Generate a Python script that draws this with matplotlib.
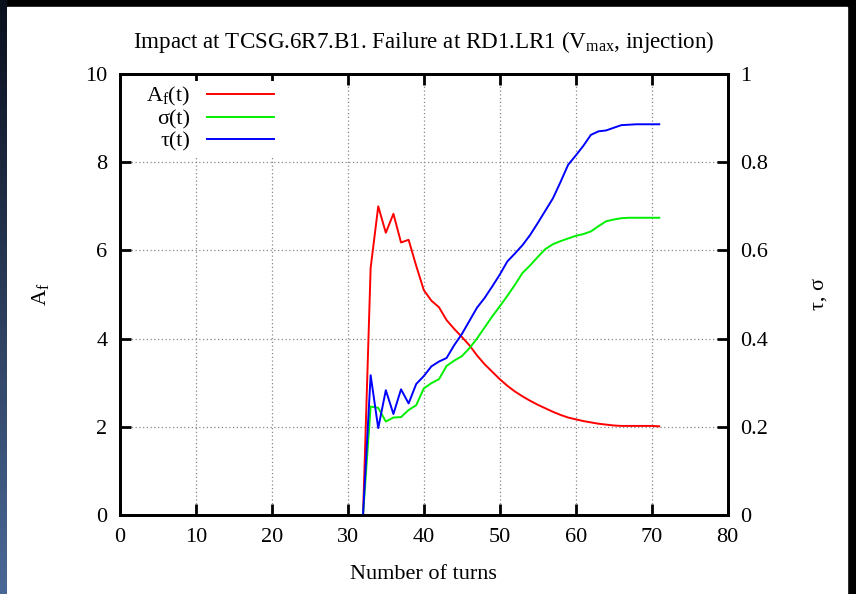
import matplotlib
matplotlib.use("Agg")
import matplotlib.pyplot as plt
import numpy as np

plt.rcParams["font.family"] = ["Liberation Serif", "DejaVu Serif"]
plt.rcParams["mathtext.fontset"] = "custom"
plt.rcParams["mathtext.rm"] = "Liberation Serif"
plt.rcParams["mathtext.it"] = "Liberation Serif:italic"

turns = list(range(32, 72))
a_f = [0.0, 5.6, 7.0, 6.4, 6.83, 6.18, 6.24, 5.65, 5.1, 4.86,
       4.71, 4.42, 4.22, 4.04, 3.85, 3.62, 3.42, 3.25, 3.08, 2.93,
       2.80, 2.69, 2.59, 2.50, 2.42, 2.34, 2.27, 2.21, 2.17, 2.13,
       2.10, 2.07, 2.05, 2.03, 2.02, 2.02, 2.02, 2.02, 2.02, 2.01]
sigma = [0.0, 0.246, 0.243, 0.212, 0.221, 0.222, 0.238, 0.249, 0.287, 0.299,
         0.308, 0.338, 0.350, 0.360, 0.378, 0.400, 0.425, 0.450, 0.473, 0.497,
         0.522, 0.549, 0.566, 0.585, 0.603, 0.614, 0.621, 0.627, 0.633, 0.637,
         0.643, 0.655, 0.666, 0.670, 0.673, 0.674, 0.674, 0.674, 0.674, 0.674]
tau = [0.0, 0.317, 0.197, 0.283, 0.229, 0.285, 0.253, 0.297, 0.315, 0.337,
       0.348, 0.356, 0.385, 0.410, 0.440, 0.470, 0.492, 0.518, 0.545, 0.575,
       0.593, 0.612, 0.635, 0.662, 0.690, 0.718, 0.755, 0.794, 0.815, 0.837,
       0.862, 0.870, 0.872, 0.878, 0.884, 0.885, 0.886, 0.886, 0.886, 0.886]

fs = 16

fig = plt.figure(figsize=(8.56, 5.94), dpi=100, facecolor="black")

# slide background: white panel, blue gradient strip on the left
bg = fig.add_axes([0, 0, 1, 1])
bg.set_axis_off()
bg.set_xlim(0, 856)
bg.set_ylim(594, 0)
bg.add_patch(plt.Rectangle((7, 7), 840, 590, color="white"))
grad = np.linspace(0, 1, 200).reshape(-1, 1)
strip = fig.add_axes([0, 0, 7 / 856, 1])
strip.set_axis_off()
strip.imshow(grad, aspect="auto", cmap=matplotlib.colors.LinearSegmentedColormap.from_list(
    "slide", ["#0a0f1c", "#4a6896"]), extent=(0, 1, 0, 1))

ax = fig.add_axes([120 / 856, 79 / 594, 607.6 / 856, 441 / 594])
ax2 = ax.twinx()

l1, = ax.plot(turns, a_f, color="#ff0000", lw=1.4, label=r"A$_{\rm f}$(t)")
l2, = ax2.plot(turns, sigma, color="#00f000", lw=1.4, label="σ(t)")
l3, = ax2.plot(turns, tau, color="#0000ff", lw=1.4, label="τ(t)")

ax.set_xlim(0, 80)
ax.set_ylim(0, 10)
ax2.set_ylim(0, 1)
ax.set_xticks(range(0, 81, 10))
ax.set_yticks(range(0, 11, 2))
ax2.set_yticks([0, 0.2, 0.4, 0.6, 0.8, 1])
ax2.set_yticklabels(["0", "0.2", "0.4", "0.6", "0.8", "1"])

ax.grid(True, color="#888888", linestyle=(0, (1, 2)), linewidth=0.9)
ax.tick_params(axis="x", which="both", direction="in", top=True, length=8, width=2,
               labelsize=fs, pad=9)
ax.tick_params(axis="y", direction="in", length=8, width=2, labelsize=fs, pad=9)
ax2.tick_params(axis="y", direction="in", length=8, width=2, labelsize=fs, pad=9)
for a in (ax, ax2):
    for s in a.spines.values():
        s.set_linewidth(2)

ax.set_xlabel("Number of turns", fontsize=fs, labelpad=13)
ax.set_ylabel(r"A$_{\rm f}$", fontsize=fs, labelpad=25)
ax2.set_ylabel("τ, σ", fontsize=fs, labelpad=30, rotation=90)
ax.set_title(r"Impact at TCSG.6R7.B1. Failure at RD1.LR1 (V$_{\rm max}$, injection)",
             fontsize=16.6, pad=19)

leg = ax2.legend(handles=[l1, l2, l3], loc="upper left", markerfirst=False,
                 fontsize=fs, handlelength=3.0, handletextpad=0.75, labelspacing=0.05,
                 borderpad=0.2, borderaxespad=0.3, frameon=True, fancybox=False,
                 bbox_to_anchor=(0.025, 1.0))
leg.get_frame().set_facecolor("white")
leg.get_frame().set_edgecolor("none")
leg.get_frame().set_alpha(1)

fig.savefig("out.png", dpi=100, facecolor=fig.get_facecolor())
